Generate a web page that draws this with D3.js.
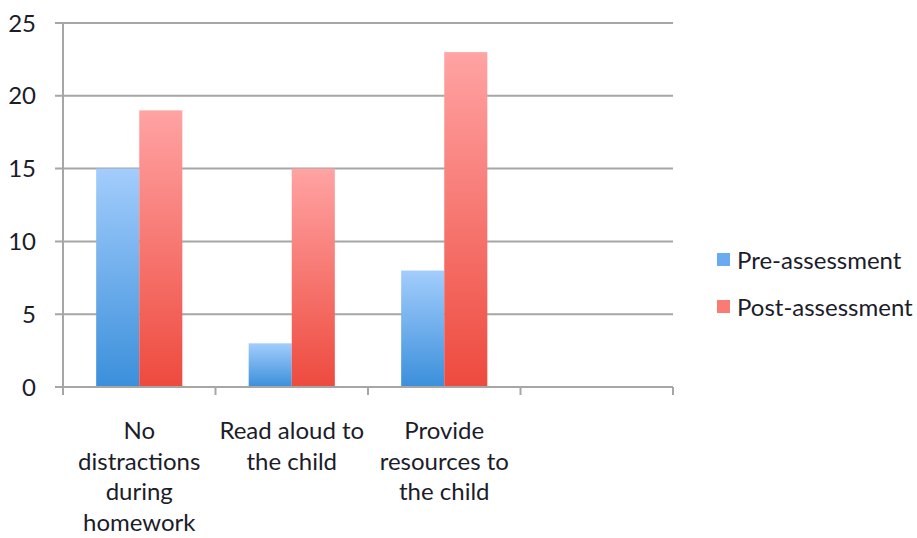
<!DOCTYPE html>
<html>
<head>
<meta charset="utf-8">
<script src="https://cdn.jsdelivr.net/npm/d3@7"></script>
<style>
  body { margin: 0; background: #fff; }
  text { font-family: Lato, 'Open Sans', sans-serif; fill: #1c1c2a; }
</style>
</head>
<body>
<svg id="chart" width="917" height="538"></svg>
<script>
// data
const categories = ['No\ndistractions\nduring\nhomework', 'Read aloud to\nthe child', 'Provide\nresources to\nthe child', '']
const seriesNames = ['Pre-assessment', 'Post-assessment']
const preValues = [15, 3, 8, null]
const postValues = [19, 15, 23, null]
const yTicks = [0, 5, 10, 15, 20, 25]

const svg = d3.select('#chart')
const margin = { left: 63, right: 244, top: 23, bottom: 151 }
const width = +svg.attr('width')
const height = +svg.attr('height')
const innerWidth = width - margin.left - margin.right
const innerHeight = height - margin.top - margin.bottom

const defs = svg.append('defs')
let grad = function (id, top, bottom) {
  let g = defs.append('linearGradient').attr('id', id)
    .attr('x1', 0).attr('y1', 0).attr('x2', 0).attr('y2', 1)
  g.append('stop').attr('offset', '0%').attr('stop-color', top)
  g.append('stop').attr('offset', '100%').attr('stop-color', bottom)
}
grad('gradPre', '#a3cdfc', '#3b8fdb')
grad('gradPost', '#ffa3a3', '#ee4a3e')
const fills = ['url(#gradPre)', 'url(#gradPost)']
const legendFills = ['#6aaaf0', '#fa7a74']

const g = svg.append('g').attr('transform', `translate(${margin.left},${margin.top})`)

const x = d3.scaleBand().domain(d3.range(categories.length)).range([0, innerWidth])
const x1 = d3.scaleBand().domain([0, 1]).range([0, x.bandwidth()]).paddingOuter(0.77).paddingInner(0)
const y = d3.scaleLinear().domain([0, 25]).range([innerHeight, 0])

// gridlines
g.selectAll('.grid').data(yTicks).enter().append('line')
  .attr('x1', -8).attr('x2', innerWidth)
  .attr('y1', d => y(d)).attr('y2', d => y(d))
  .attr('stroke', '#a6a6a6').attr('stroke-width', 2)

// y labels
g.selectAll('.ylab').data(yTicks).enter().append('text')
  .attr('x', -27).attr('y', d => y(d)).attr('dy', '0.36em')
  .attr('text-anchor', 'end').style('font-size', '24px')
  .text(d => d)

// bars
const rows = categories.map((c, i) => [preValues[i], postValues[i]])
const groups = g.selectAll('.grp').data(rows).enter().append('g')
  .attr('transform', (d, i) => `translate(${x(i)},0)`)
groups.selectAll('rect').data(d => d.map((v, j) => ({ v, j })).filter(e => e.v !== null))
  .enter().append('rect')
  .attr('x', d => x1(d.j))
  .attr('width', x1.bandwidth())
  .attr('y', d => y(d.v))
  .attr('height', d => innerHeight - y(d.v))
  .attr('fill', d => fills[d.j])

// y axis line
g.append('line').attr('x1', 0).attr('x2', 0).attr('y1', 0).attr('y2', innerHeight + 8)
  .attr('stroke', '#a6a6a6').attr('stroke-width', 2)
// x axis with ticks between categories
g.append('line').attr('x1', 0).attr('x2', innerWidth).attr('y1', innerHeight).attr('y2', innerHeight)
  .attr('stroke', '#a6a6a6').attr('stroke-width', 2)
g.selectAll('.xtick').data(d3.range(categories.length + 1)).enter().append('line')
  .attr('x1', d => d * x.step()).attr('x2', d => d * x.step())
  .attr('y1', innerHeight).attr('y2', innerHeight + 8)
  .attr('stroke', '#a6a6a6').attr('stroke-width', 2)

// category labels, one text per line
categories.forEach((c, i) => {
  if (!c) return
  g.append('g')
    .attr('transform', `translate(${x(i) + x.bandwidth() / 2},${innerHeight + 52})`)
    .selectAll('text').data(c.split('\n')).enter().append('text')
    .attr('text-anchor', 'middle').style('font-size', '24px')
    .attr('y', (t, k) => k * 30.5)
    .text(t => t)
})

// legend
const legend = svg.append('g').attr('transform', 'translate(717,253)')
const li = legend.selectAll('g').data(seriesNames).enter().append('g')
  .attr('transform', (d, i) => `translate(0,${i * 47})`)
li.append('rect').attr('width', 13).attr('height', 13).attr('fill', (d, i) => legendFills[i])
li.append('text').attr('x', 20).attr('y', 7).attr('dy', '0.36em')
  .style('font-size', '24px').text(d => d)
</script>
</body>
</html>
